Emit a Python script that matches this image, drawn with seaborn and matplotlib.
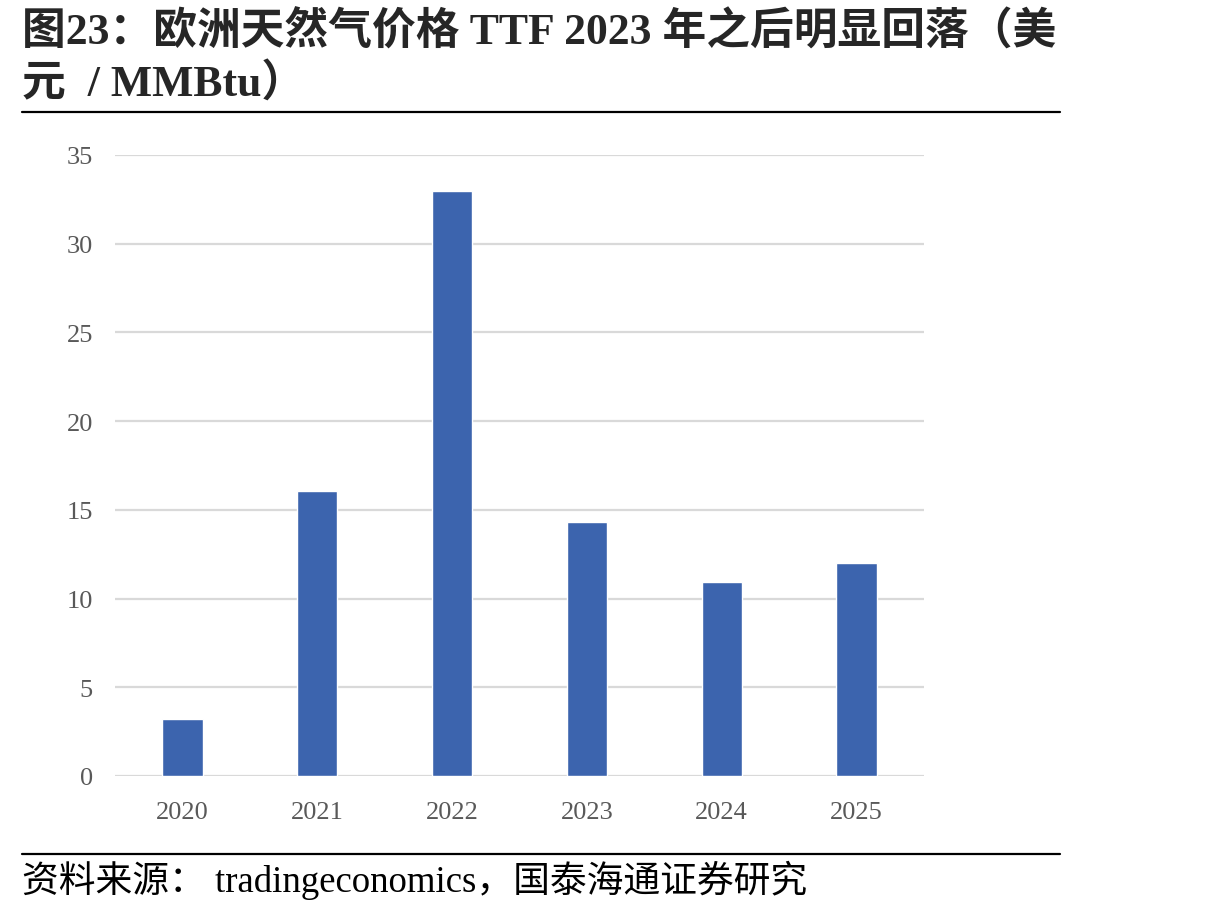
import matplotlib
matplotlib.use("Agg")
import matplotlib.pyplot as plt
import seaborn as sns
import pandas as pd

years = ["2020", "2021", "2022", "2023", "2024", "2025"]
prices = [3.2, 16.06, 32.95, 14.32, 10.93, 12.0]
yticks = [0, 5, 10, 15, 20, 25, 30, 35]

sns.set_theme(style="white")
plt.rcParams['font.family'] = ['Liberation Serif', 'Noto Sans CJK SC', 'DejaVu Sans']

df = pd.DataFrame({"year": years, "price": prices})

fig = plt.figure(figsize=(12.16, 9.12), dpi=100)
ax = fig.add_axes([115/1216, 1-777/912, 809/1216, 621/912])

sns.barplot(data=df, x="year", y="price", color="#3C64AE", saturation=1, width=0.3, ax=ax, zorder=3)

ax.set_ylim(0, 35)
ax.set_xlim(-0.5, 5.5)
ax.set_yticks(yticks)
ax.set_yticklabels([str(v) for v in yticks])
ax.yaxis.grid(True, color="#D9D9D9", linewidth=1.6, zorder=0)
ax.set_axisbelow(True)
for s in ax.spines.values():
    s.set_visible(False)
ax.set_xlabel("")
ax.set_ylabel("")
ax.tick_params(axis="both", length=0, labelcolor="#595959", labelsize=19)
ax.tick_params(axis="y", pad=16)
ax.tick_params(axis="x", pad=18)

fig.text(22/1216, 1-32/912, "图23：欧洲天然气价格 TTF 2023 年之后明显回落（美",
         fontsize=31.5, fontweight="bold", ha="left", va="center")
fig.text(22/1216, 1-85/912, "元  / MMBtu）",
         fontsize=31.5, fontweight="bold", ha="left", va="center")
fig.add_artist(plt.Line2D([22/1216, 1060/1216], [1-113/912, 1-113/912], color="black", linewidth=1.6))
fig.add_artist(plt.Line2D([22/1216, 1060/1216], [1-855/912, 1-855/912], color="black", linewidth=1.6))
fig.text(22/1216, 1-880/912, "资料来源： tradingeconomics，国泰海通证券研究",
         fontsize=26.5, ha="left", va="center", color="black")

fig.savefig("out.png", dpi=100)
